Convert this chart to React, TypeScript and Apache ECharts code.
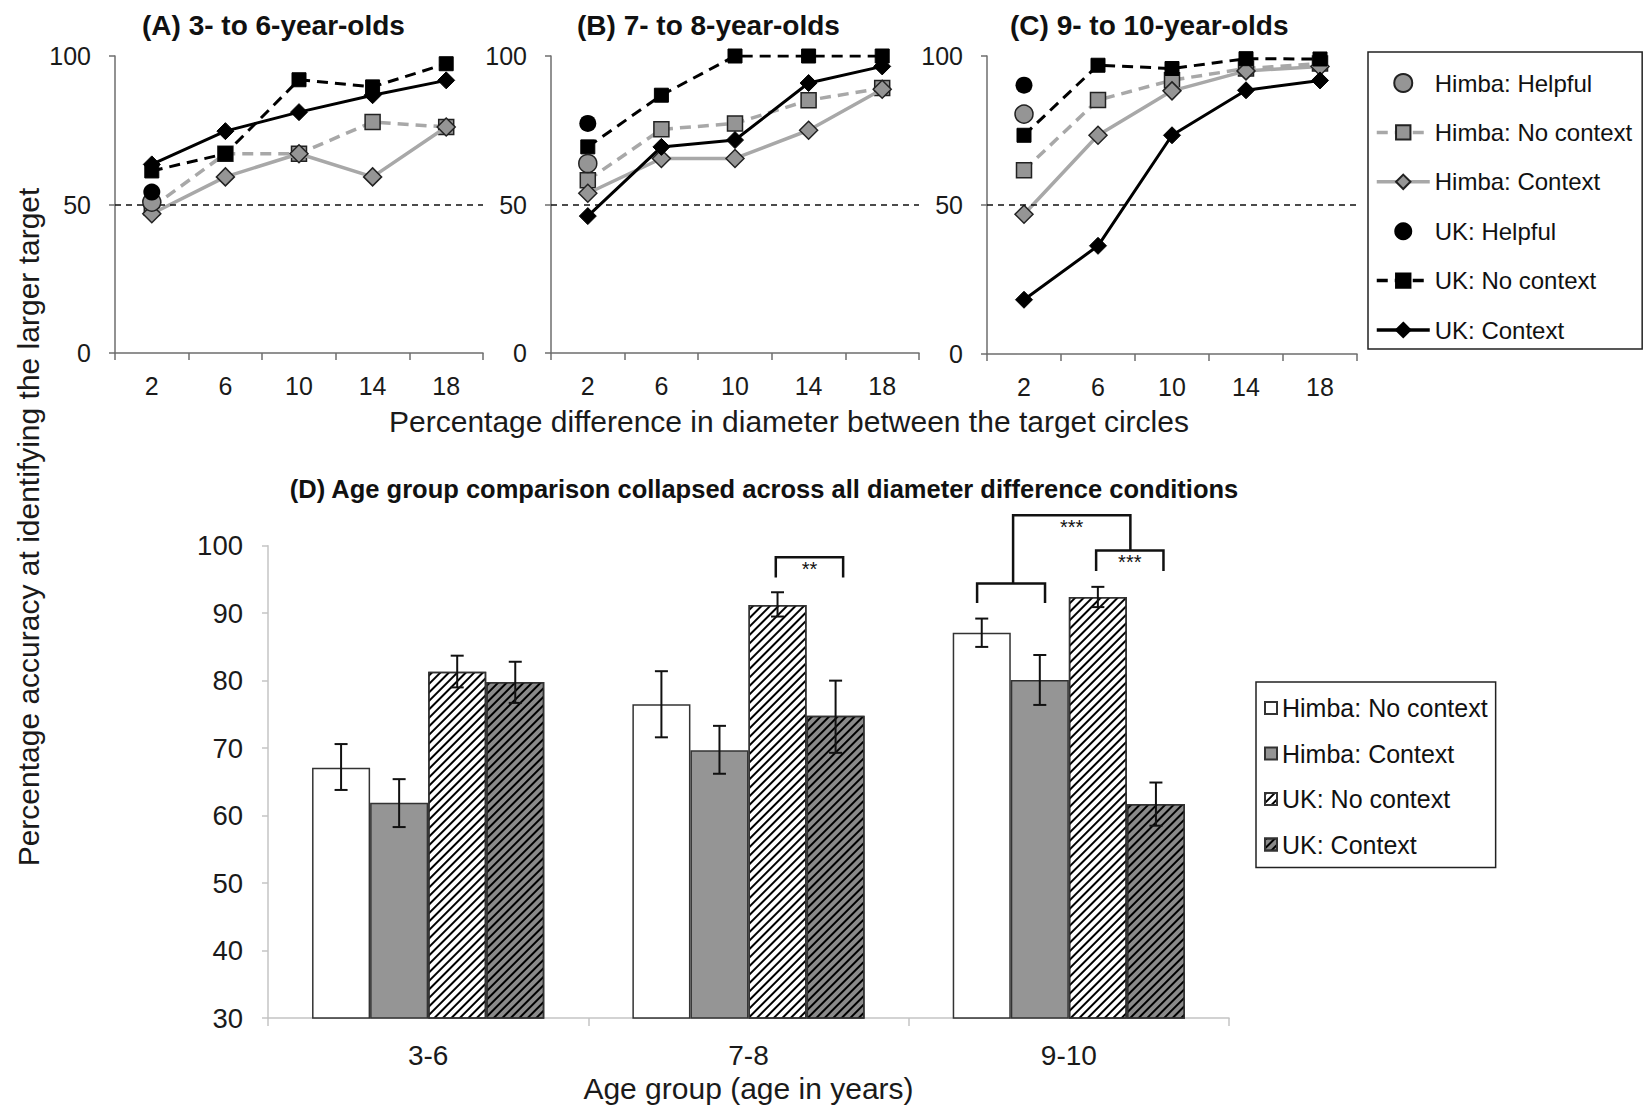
import React, { useEffect, useRef } from "react";
import * as echarts from "echarts";

const FONT = "'Liberation Sans', Arial, Helvetica, sans-serif";

// ---------- Panels A–C: accuracy by diameter difference ----------
const diffCategories = ["2", "6", "10", "14", "18"];

const aHimbaHelpful = [50.8, null, null, null, null];
const aHimbaNoContext = [49.0, 67.1, 67.1, 77.8, 76.1];
const aHimbaContext = [46.9, 59.3, 67.1, 59.3, 76.1];
const aUKHelpful = [54.2, null, null, null, null];
const aUKNoContext = [61.3, 67.1, 92.0, 89.6, 97.4];
const aUKContext = [63.5, 74.7, 81.1, 86.8, 91.8];

const bHimbaHelpful = [63.8, null, null, null, null];
const bHimbaNoContext = [58.2, 75.3, 77.3, 85.1, 89.2];
const bHimbaContext = [53.8, 65.5, 65.5, 75.0, 88.8];
const bUKHelpful = [77.3, null, null, null, null];
const bUKNoContext = [69.4, 86.8, 100, 100, 100];
const bUKContext = [46.1, 69.4, 71.7, 90.9, 96.5];

const cHimbaHelpful = [80.5, null, null, null, null];
const cHimbaNoContext = [61.7, 85.2, 91.9, 95.8, 97.5];
const cHimbaContext = [46.9, 73.4, 88.3, 95.0, 96.5];
const cUKHelpful = [90.2, null, null, null, null];
const cUKNoContext = [73.4, 96.9, 95.8, 99.1, 99.0];
const cUKContext = [18.2, 36.3, 73.4, 88.5, 91.8];

const panelTitles = ["(A) 3- to 6-year-olds", "(B) 7- to 8-year-olds", "(C) 9- to 10-year-olds"];
const lineYTicks = [0, 50, 100];

// ---------- Panel D: age group comparison ----------
const ageGroups = ["3-6", "7-8", "9-10"];
const barHimbaNoContext = [67.1, 76.5, 87.1];
const barHimbaContext = [61.9, 69.7, 80.1];
const barUKNoContext = [81.3, 91.2, 92.4];
const barUKContext = [79.8, 74.8, 61.7];
const errHimbaNoContext = [[63.8, 70.6], [71.6, 81.4], [85.0, 89.2]];
const errHimbaContext = [[58.3, 65.4], [66.2, 73.3], [76.4, 83.8]];
const errUKNoContext = [[79.0, 83.7], [89.5, 93.1], [90.9, 93.9]];
const errUKContext = [[76.7, 82.8], [69.3, 80.0], [58.5, 64.9]];

// significance brackets: [group, fromBarPos, toBarPos, topValue, leftLegValue, rightLegValue]
const sigBrackets = [
  [1, 2.47, 3.63, 98.3, 95.3, 95.3],
  [2, 0.42, 1.59, 94.4, 91.5, 91.5],
  [2, 2.47, 3.63, 99.3, 96.25, 96.25],
  [2, 1.04, 3.06, 104.5, 94.4, 99.3],
];
const sigLabels = ["**", "", "***", "***"];

const legendLineNames = [
  "Himba: Helpful",
  "Himba: No context",
  "Himba: Context",
  "UK: Helpful",
  "UK: No context",
  "UK: Context",
];
const legendBarNames = ["Himba: No context", "Himba: Context", "UK: No context", "UK: Context"];

const GRAY_LINE = "#a8a8a8";
const GRAY_FILL = "#959595";
const BAR_GAP_FRAC = 0.275;

export default function App() {
  const ref = useRef<HTMLDivElement>(null);

  useEffect(() => {
    document.body.style.margin = "0";
    if (!ref.current) return;
    const chart = echarts.init(ref.current, null, { renderer: "svg" });

    const panels = [
      [aHimbaHelpful, aHimbaNoContext, aHimbaContext, aUKHelpful, aUKNoContext, aUKContext],
      [bHimbaHelpful, bHimbaNoContext, bHimbaContext, bUKHelpful, bUKNoContext, bUKContext],
      [cHimbaHelpful, cHimbaNoContext, cHimbaContext, cUKHelpful, cUKNoContext, cUKContext],
    ];

    const lineGrids = [
      { left: 115, top: 56, width: 368, height: 297 },
      { left: 551, top: 56, width: 368, height: 297 },
      { left: 987, top: 56, width: 370, height: 298 },
    ];

    const grids: any[] = lineGrids.map((g) => ({ ...g, containLabel: false }));
    grids.push({ left: 268, top: 545.7, width: 961, height: 472.3, containLabel: false });

    const xAxes: any[] = lineGrids.map((_, i) => ({
      type: "category",
      gridIndex: i,
      data: diffCategories,
      boundaryGap: true,
      axisLine: { lineStyle: { color: "#6e6e6e", width: 1.5 } },
      axisTick: { show: true, length: 7, interval: 0, lineStyle: { color: "#6e6e6e", width: 1.5 } },
      axisLabel: { fontSize: 25, color: "#1a1a1a", fontFamily: FONT, margin: 20, interval: 0 },
      splitLine: { show: false },
    }));
    xAxes.push({
      type: "category",
      gridIndex: 3,
      data: ageGroups,
      boundaryGap: true,
      axisLine: { lineStyle: { color: "#c4c4c4", width: 1.5 } },
      axisTick: { show: true, length: 8, interval: 0, lineStyle: { color: "#c4c4c4", width: 1.5 } },
      axisLabel: { fontSize: 28, color: "#1a1a1a", fontFamily: FONT, margin: 23 },
      name: "Age group (age in years)",
      nameLocation: "middle",
      nameGap: 55,
      nameTextStyle: { fontSize: 30, color: "#1a1a1a", fontFamily: FONT },
    });

    const yAxes: any[] = lineGrids.map((_, i) => ({
      type: "value",
      gridIndex: i,
      min: lineYTicks[0],
      max: lineYTicks[2],
      interval: 50,
      axisLine: { show: true, lineStyle: { color: "#6e6e6e", width: 1.5 } },
      axisTick: { show: true, length: 6, lineStyle: { color: "#6e6e6e", width: 1.5 } },
      axisLabel: { fontSize: 25, color: "#1a1a1a", fontFamily: FONT, margin: 24 },
      splitLine: { show: false },
    }));
    yAxes.push({
      type: "value",
      gridIndex: 3,
      min: 30,
      max: 100,
      interval: 10,
      axisLine: { show: true, lineStyle: { color: "#c4c4c4", width: 1.5 } },
      axisTick: { show: true, length: 6, lineStyle: { color: "#c4c4c4", width: 1.5 } },
      axisLabel: { fontSize: 27.5, color: "#1a1a1a", fontFamily: FONT, margin: 25 },
      splitLine: { show: false },
    });

    const series: any[] = [];
    panels.forEach((p, i) => {
      const [hh, hn, hc, uh, un, uc] = p;
      const toPts = (arr: (number | null)[]) =>
        arr.map((v, k) => (v == null ? null : [k, v])).filter((d) => d != null);
      series.push({
        name: "Himba: No context",
        type: "line",
        xAxisIndex: i,
        yAxisIndex: i,
        data: hn,
        symbol: "rect",
        symbolSize: 15,
        lineStyle: { color: GRAY_LINE, width: 3.5, type: [11, 7] },
        itemStyle: { color: GRAY_FILL, borderColor: "#222", borderWidth: 1.5 },
        z: 2,
        markLine: {
          silent: true,
          symbol: "none",
          label: { show: false },
          lineStyle: { color: "#111", width: 1.5, type: [6, 5] },
          data: [{ yAxis: 50 }],
        },
      });
      series.push({
        name: "Himba: Context",
        type: "line",
        xAxisIndex: i,
        yAxisIndex: i,
        data: hc,
        symbol: "diamond",
        symbolSize: 18,
        lineStyle: { color: GRAY_LINE, width: 3.5 },
        itemStyle: { color: GRAY_FILL, borderColor: "#222", borderWidth: 1.5 },
        z: 3,
      });
      series.push({
        name: "UK: No context",
        type: "line",
        xAxisIndex: i,
        yAxisIndex: i,
        data: un,
        symbol: "rect",
        symbolSize: 14,
        lineStyle: { color: "#000", width: 3, type: [11, 7] },
        itemStyle: { color: "#000", borderColor: "#000", borderWidth: 1 },
        z: 4,
      });
      series.push({
        name: "UK: Context",
        type: "line",
        xAxisIndex: i,
        yAxisIndex: i,
        data: uc,
        symbol: "diamond",
        symbolSize: 17,
        lineStyle: { color: "#000", width: 3 },
        itemStyle: { color: "#000", borderColor: "#000", borderWidth: 1 },
        z: 5,
      });
      series.push({
        name: "Himba: Helpful",
        type: "scatter",
        xAxisIndex: i,
        yAxisIndex: i,
        data: toPts(hh),
        symbol: "circle",
        symbolSize: 18,
        itemStyle: { color: GRAY_FILL, borderColor: "#222", borderWidth: 1.5, opacity: 1 },
        z: 6,
      });
      series.push({
        name: "UK: Helpful",
        type: "scatter",
        xAxisIndex: i,
        yAxisIndex: i,
        data: toPts(uh),
        symbol: "circle",
        symbolSize: 17,
        itemStyle: { color: "#000", opacity: 1 },
        z: 6,
      });
    });

    const hatch = (bg: string) => ({
      symbol: "rect",
      symbolSize: 1,
      dashArrayX: [1, 0],
      dashArrayY: [2, 3.8],
      rotation: -Math.PI / 4,
      color: "#000",
      backgroundColor: bg,
    });

    const barDefs = [
      { name: "bar|Himba: No context", data: barHimbaNoContext, style: { color: "#ffffff" } },
      { name: "bar|Himba: Context", data: barHimbaContext, style: { color: GRAY_FILL } },
      { name: "bar|UK: No context", data: barUKNoContext, style: { color: "#ffffff", decal: hatch("#ffffff") } },
      { name: "bar|UK: Context", data: barUKContext, style: { color: "#8a8a8a", decal: hatch("#8a8a8a") } },
    ];
    barDefs.forEach((b) => {
      series.push({
        name: b.name,
        type: "bar",
        xAxisIndex: 3,
        yAxisIndex: 3,
        data: b.data,
        barGap: "0%",
        barCategoryGap: BAR_GAP_FRAC * 100 + "%",
        itemStyle: { ...b.style, borderColor: "#333", borderWidth: 1.5 },
        z: 2,
      });
    });

    const errs = [errHimbaNoContext, errHimbaContext, errUKNoContext, errUKContext];
    const errData: number[][] = [];
    errs.forEach((e, bi) => e.forEach((r, ci) => errData.push([ci, r[0], r[1], bi])));

    series.push({
      name: "errors",
      type: "custom",
      xAxisIndex: 3,
      yAxisIndex: 3,
      data: errData,
      encode: { x: 0, y: [1, 2] },
      z: 10,
      renderItem: (params: any, api: any) => {
        const cat = api.value(0);
        const lo = api.value(1);
        const hi = api.value(2);
        const bi = api.value(3);
        const bw = api.size([1, 0])[0];
        const barW = (bw * (1 - BAR_GAP_FRAC)) / 4;
        const pLo = api.coord([cat, lo]);
        const pHi = api.coord([cat, hi]);
        const x = pLo[0] + (bi - 1.5) * barW;
        const cap = 6.5;
        const st = { stroke: "#111", lineWidth: 2 };
        return {
          type: "group",
          children: [
            { type: "line", shape: { x1: x, y1: pHi[1], x2: x, y2: pLo[1] }, style: st },
            { type: "line", shape: { x1: x - cap, y1: pHi[1], x2: x + cap, y2: pHi[1] }, style: st },
            { type: "line", shape: { x1: x - cap, y1: pLo[1], x2: x + cap, y2: pLo[1] }, style: st },
          ],
        };
      },
    });

    series.push({
      name: "significance",
      type: "custom",
      xAxisIndex: 3,
      yAxisIndex: 3,
      data: sigBrackets,
      encode: { x: 0, y: 3 },
      clip: false,
      z: 11,
      renderItem: (params: any, api: any) => {
        const cat = api.value(0);
        const pa = api.value(1);
        const pb = api.value(2);
        const top = api.value(3);
        const legA = api.value(4);
        const legB = api.value(5);
        const bw = api.size([1, 0])[0];
        const barW = (bw * (1 - BAR_GAP_FRAC)) / 4;
        const c = api.coord([cat, top]);
        const groupLeft = c[0] - 2 * barW;
        const xa = groupLeft + pa * barW;
        const xb = groupLeft + pb * barW;
        const yt = c[1];
        const ya = api.coord([cat, legA])[1];
        const yb = api.coord([cat, legB])[1];
        const children: any[] = [
          {
            type: "polyline",
            shape: { points: [[xa, ya], [xa, yt], [xb, yt], [xb, yb]] },
            style: { stroke: "#111", lineWidth: 2.5, fill: "none" },
          },
        ];
        const lbl = sigLabels[params.dataIndex];
        if (lbl) {
          children.push({
            type: "text",
            style: {
              text: lbl,
              x: (xa + xb) / 2,
              y: yt + 12,
              align: "center",
              verticalAlign: "middle",
              fontSize: 20,
              fontFamily: FONT,
              fill: "#111",
            },
          });
        }
        return { type: "group", children };
      },
    });

    const graphic: any[] = [];
    const titleX = [142, 577, 1010];
    panelTitles.forEach((t, i) => {
      graphic.push({
        type: "text",
        x: titleX[i],
        y: 25,
        style: {
          text: t,
          fontSize: 28,
          fontWeight: "bold",
          fontFamily: FONT,
          fill: "#111",
          textVerticalAlign: "middle",
        },
      });
    });
    graphic.push({
      type: "text",
      x: 764,
      y: 489,
      style: {
        text: "(D) Age group comparison collapsed across all diameter difference conditions",
        fontSize: 25.5,
        fontWeight: "bold",
        fontFamily: FONT,
        fill: "#111",
        textAlign: "center",
        textVerticalAlign: "middle",
      },
    });
    graphic.push({
      type: "text",
      x: 789,
      y: 421,
      style: {
        text: "Percentage difference in diameter between the target circles",
        fontSize: 30,
        fontFamily: FONT,
        fill: "#1a1a1a",
        textAlign: "center",
        textVerticalAlign: "middle",
      },
    });
    graphic.push({
      type: "text",
      x: 28,
      y: 527,
      rotation: Math.PI / 2,
      style: {
        text: "Percentage accuracy at identifying the larger target",
        fontSize: 30,
        fontFamily: FONT,
        fill: "#1a1a1a",
        textAlign: "center",
        textVerticalAlign: "middle",
      },
    });

    chart.setOption({
      animation: false,
      backgroundColor: "#ffffff",
      grid: grids,
      xAxis: xAxes,
      yAxis: yAxes,
      series,
      graphic,
      legend: [
        {
          orient: "vertical",
          left: 1368,
          top: 52,
          padding: [19, 10, 7, 7],
          itemGap: 25.4,
          itemWidth: 53,
          itemHeight: 18,
          selectedMode: false,
          borderColor: "#222",
          borderWidth: 1.5,
          lineStyle: { width: 3.5 },
          textStyle: { fontSize: 24, fontFamily: FONT, color: "#111", lineHeight: 24 },
          data: legendLineNames,
        },
        {
          orient: "vertical",
          left: 1256,
          top: 682,
          padding: [13, 8, 10, 8],
          itemGap: 19.5,
          itemWidth: 12,
          itemHeight: 12,
          icon: "rect",
          selectedMode: false,
          borderColor: "#222",
          borderWidth: 1.5,
          textStyle: { fontSize: 25, fontFamily: FONT, color: "#111", lineHeight: 26 },
          formatter: (n: string) => n.split("|")[1],
          data: legendBarNames.map((n) => "bar|" + n),
        },
      ],
    });

    return () => chart.dispose();
  }, []);

  return <div ref={ref} style={{ width: 1645, height: 1107 }} />;
}
